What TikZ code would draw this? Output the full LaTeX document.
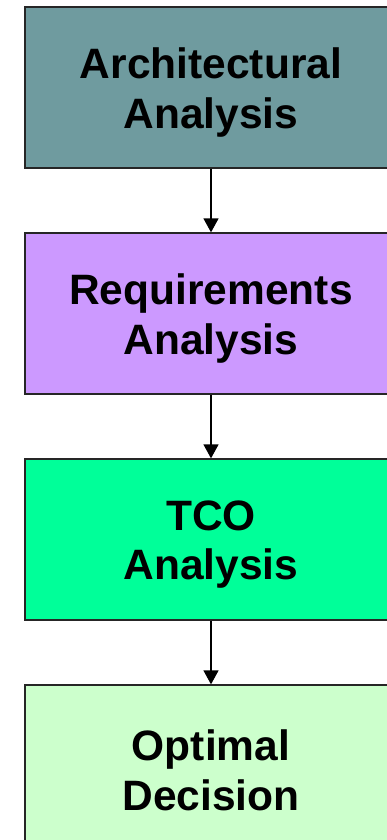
\documentclass[tikz,border=0pt]{standalone}
\usepackage{fontspec}
\setmainfont{Liberation Sans}
\usetikzlibrary{arrows.meta}
\definecolor{archfill}{HTML}{6F9B9F}
\definecolor{reqfill}{HTML}{CC99FF}
\definecolor{tcofill}{HTML}{00FF99}
\definecolor{decfill}{HTML}{CCFFCC}
\tikzset{
  stagebox/.style={draw=black!85, line width=1.3pt, minimum width=372pt, minimum height=161pt,
    inner sep=0pt},
  stagetext/.style={inner sep=0pt, align=center, yshift=-5pt,
    font=\fontsize{42.5}{49.5}\selectfont\bfseries},
  flow/.style={draw=black, line width=1.4pt, -{Triangle[width=15pt,length=14pt]}}
}
\begin{document}
\begin{tikzpicture}[x=1pt,y=-1pt]
\useasboundingbox (0,0) rectangle (387,840);
\clip (0,0) rectangle (387,840);
\fill[white] (0,0) rectangle (387,840);
% stage boxes
\node[stagebox, fill=archfill] (arch) at (211,87.5) {};
\node[stagebox, fill=reqfill] (req) at (211,313.5) {};
\node[stagebox, fill=tcofill] (tco) at (211,539.5) {};
\node[stagebox, fill=decfill] (dec) at (211,765.5) {};
% labels
\node[stagetext] (archtext) at (arch.center) {Architectural\\Analysis};
\node[stagetext] (reqtext) at (req.center) {Requirements\\Analysis};
\node[stagetext] (tcotext) at (tco.center) {TCO\\Analysis};
\node[stagetext] (dectext) at (dec.center) {Optimal\\Decision};
% flow arrows
\draw[flow] (arch) -- (req);
\draw[flow] (req) -- (tco);
\draw[flow] (tco) -- (dec);
\end{tikzpicture}
\end{document}
